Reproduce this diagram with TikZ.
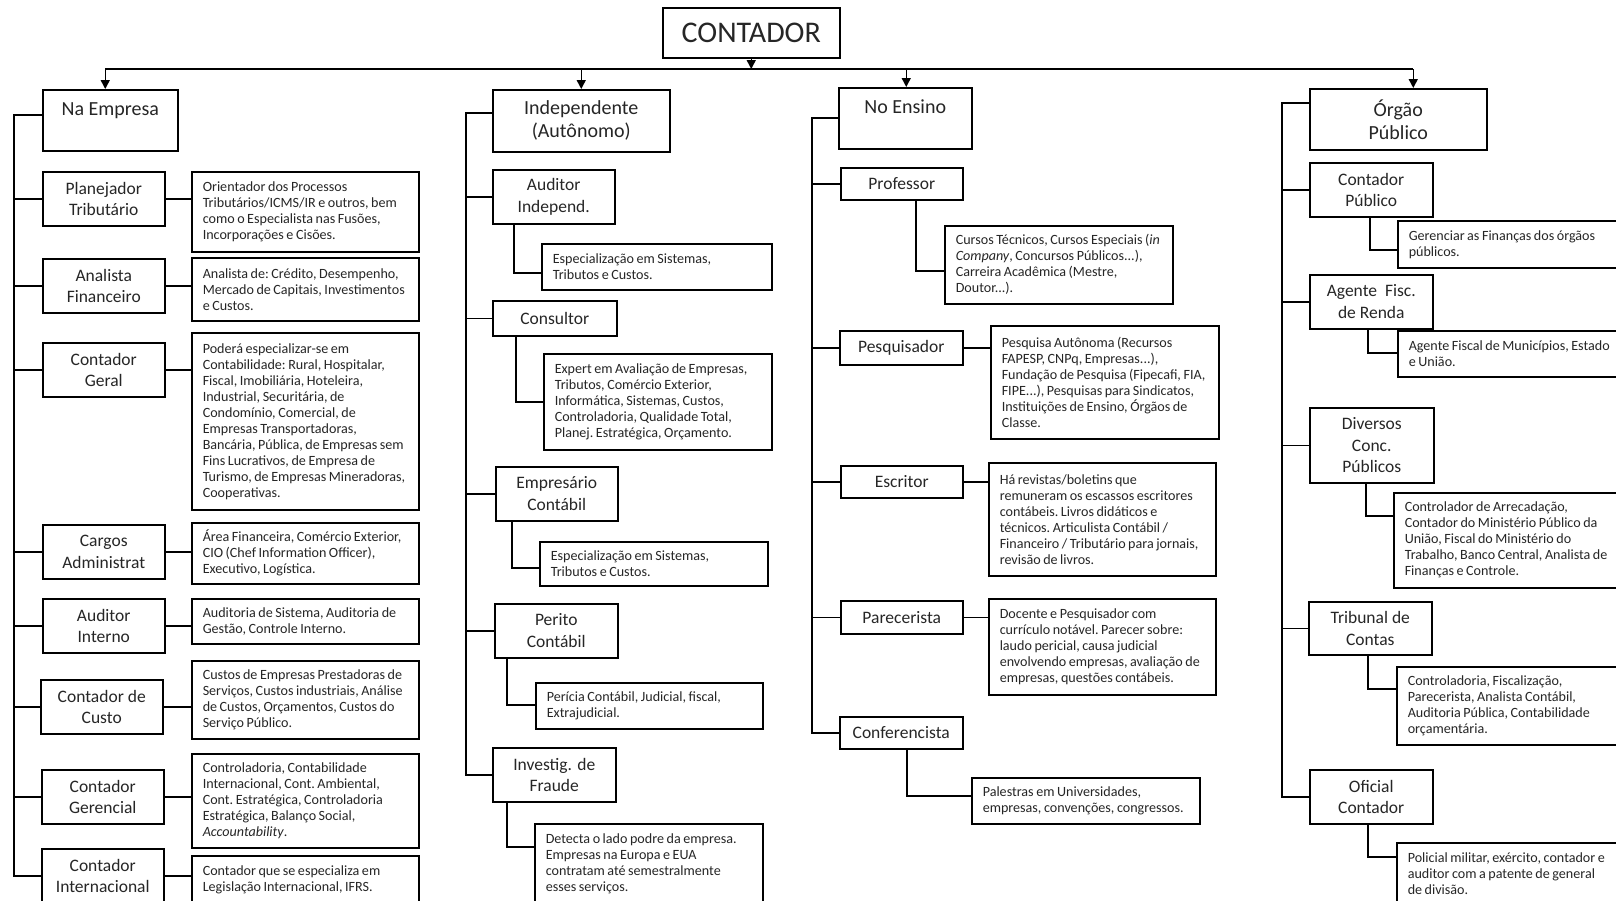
\documentclass[tikz,border=0pt]{standalone}
\usepackage{fontspec}
\setmainfont{Carlito}
\usetikzlibrary{arrows.meta,calc}
\newcommand\dscfont{\fontsize{14.1}{16}\selectfont}
\newcommand\lblfont{\fontsize{17.5}{21.5}\selectfont}
\newcommand\hdfont{\fontsize{20}{23}\selectfont}
\newcommand\ttlfont{\fontsize{30}{36}\selectfont}

\tikzset{
  ln/.style={line width=1.5pt, draw=black},
  arr/.style={ln, -{Triangle[width=9pt,length=9pt]}},
  lbl/.style 2 args={draw=black, line width=1.5pt, anchor=north west,
    minimum width=#1pt, minimum height=#2pt, inner sep=0pt,
    align=center, font=\lblfont, text=black!85},
  hd/.style 2 args={lbl={#1}{#2}, font=\hdfont},
  ttl/.style 2 args={lbl={#1}{#2}, font=\ttlfont},
  % description boxes: tight word spacing, lines never rewrap
  dsc/.style 2 args={draw=black, line width=1.5pt, anchor=north west,
    minimum width=#1pt, minimum height=#2pt, inner xsep=11pt, inner ysep=0pt,
    /utils/exec={\pgfmathsetlengthmacro\dscw{#1pt-22pt}}, text width=\dscw,
    align=left, font=\dscfont, text=black!85,
    execute at begin node={\frenchspacing\spaceskip=0.18em plus 0.1em minus 0.04em\relax
      \rightskip=0pt plus 1fil minus 40pt\relax\parskip=0pt\relax}},
}

\begin{document}
\begin{tikzpicture}[x=1pt,y=-1pt]
\clip (0,0) rectangle (1616,900);
\fill[white] (0,0) rectangle (1616,900);

% root
\node[ttl={177}{50}] (ct) at (662,7) {CONTADOR};

% ---------------- Na Empresa ----------------
\node[hd={135}{61}] (ne) at (42,89) {Na Empresa\\~};
\node[lbl={122}{54}] (pt) at (42,171) {Planejador\\Tributário};
\node[dsc={227}{80}] (ptd) at (191,171) {Orientador dos Processos\\Tributários/ICMS/IR e outros, bem\\como o Especialista nas Fusões,\\Incorporações e Cisões.};
\node[lbl={122}{54}] (af) at (42,258) {Analista\\Financeiro};
\node[dsc={227}{63}] (afd) at (191,257) {Analista de: Crédito, Desempenho,\\Mercado de Capitais, Investimentos\\e Custos.};
\node[lbl={122}{54}] (cg) at (42,342) {Contador\\Geral};
\node[dsc={227}{177}] (cgd) at (191,332) {Poderá especializar-se em\\Contabilidade: Rural, Hospitalar,\\Fiscal, Imobiliária, Hoteleira,\\Industrial, Securitária, de\\Condomínio, Comercial, de\\Empresas Transportadoras,\\Bancária, Pública, de Empresas sem\\Fins Lucrativos, de Empresa de\\Turismo, de Empresas Mineradoras,\\Cooperativas.};
\node[lbl={122}{54}] (ca) at (42,524) {Cargos\\Administrat};
\node[dsc={227}{61}] (cad) at (191,522) {Área Financeira, Comércio Exterior,\\CIO (Chef Information Officer),\\Executivo, Logística.};
\node[lbl={122}{54}] (ai) at (42,598) {Auditor\\Interno};
\node[dsc={227}{45}] (aid) at (191,598) {Auditoria de Sistema, Auditoria de\\Gestão, Controle Interno.};
\node[lbl={122}{54}] (cc) at (40,679) {Contador de\\Custo};
\node[dsc={227}{78}] (ccd) at (191,660) {Custos de Empresas Prestadoras de\\Serviços, Custos industriais, Análise\\de Custos, Orçamentos, Custos do\\Serviço Público.};
\node[lbl={122}{54}] (cge) at (41,769) {Contador\\Gerencial};
\node[dsc={227}{94}] (cged) at (191,753) {Controladoria, Contabilidade\\Internacional, Cont. Ambiental,\\Cont. Estratégica, Controladoria\\Estratégica, Balanço Social,\\\textit{Accountability}.};
\node[lbl={122}{54}] (ci) at (41,848) {Contador\\Internacional};
\node[dsc={227}{48}] (cid) at (191,855) {Contador que se especializa em\\Legislação Internacional, IFRS.};

% ---------------- Independente ----------------
\node[hd={177}{62}] (in) at (492,89) {Independente\\(Autônomo)};
\node[lbl={122}{54}] (au) at (492,169) {Auditor\\Independ.};
\node[dsc={230}{46}] (aud) at (541,243) {Especialização em Sistemas,\\Tributos e Custos.};
\node[lbl={124}{35}] (co) at (492,300) {Consultor};
\node[dsc={228}{96}] (cod) at (543,353) {Expert em Avaliação de Empresas,\\Tributos, Comércio Exterior,\\Informática, Sistemas, Custos,\\Controladoria, Qualidade Total,\\Planej. Estratégica, Orçamento.};
\node[lbl={122}{54}] (em) at (495,466) {Empresário\\Contábil};
\node[dsc={228}{44}] (emd) at (539,541) {Especialização em Sistemas,\\Tributos e Custos.};
\node[lbl={123}{54}] (pe) at (494,603) {Perito\\Contábil};
\node[dsc={227}{46}] (ped) at (535,682) {Perícia Contábil, Judicial, fiscal,\\Extrajudicial.};
\node[lbl={123}{54}] (iv) at (492,747) {Investig. de\\Fraude};
\node[dsc={228}{80}] (ivd) at (534,823) {Detecta o lado podre da empresa.\\Empresas na Europa e EUA\\contratam até semestralmente\\esses serviços.};

% ---------------- No Ensino ----------------
\node[hd={133}{61}] (ns) at (838,87) {No Ensino\\~};
\node[lbl={122}{32}] (pr) at (840,167) {Professor};
\node[dsc={228}{78}] (prd) at (944,225) {Cursos Técnicos, Cursos Especiais (\textit{in}\\\textit{Company}, Concursos Públicos...),\\Carreira Acadêmica (Mestre,\\Doutor...).};
\node[lbl={123}{34}] (pq) at (839,330) {Pesquisador};
\node[dsc={228}{113}] (pqd) at (990,325) {Pesquisa Autônoma (Recursos\\FAPESP, CNPq, Empresas...),\\Fundação de Pesquisa (Fipecafi, FIA,\\FIPE...), Pesquisas para Sindicatos,\\Instituições de Ensino, Órgãos de\\Classe.};
\node[lbl={122}{32}] (es) at (840,465) {Escritor};
\node[dsc={227}{113}] (esd) at (988,462) {Há revistas/boletins que\\remuneram os escassos escritores\\contábeis. Livros didáticos e\\técnicos. Articulista Contábil /\\Financeiro / Tributário para jornais,\\revisão de livros.};
\node[lbl={122}{33}] (pc) at (840,600) {Parecerista};
\node[dsc={227}{96}] (pcd) at (988,598) {Docente e Pesquisador com\\currículo notável. Parecer sobre:\\laudo pericial, causa judicial\\envolvendo empresas, avaliação de\\empresas, questões contábeis.};
\node[lbl={123}{32}] (cf) at (839,716) {Conferencista};
\node[dsc={228}{46}] (cfd) at (971,777) {Palestras em Universidades,\\empresas, convenções, congressos.};

% ---------------- Órgão Público ----------------
\node[hd={177}{61}] (og) at (1309,88) {Órgão\\Público};
\node[lbl={123}{54}] (cp) at (1309,162) {Contador\\Público};
\node[dsc={240}{47}] (cpd) at (1397,220) {Gerenciar as Finanças dos órgãos\\públicos.};
\node[lbl={123}{54}] (ag) at (1309,274) {Agente~ Fisc.\\de Renda};
\node[dsc={240}{46}] (agd) at (1397,330) {Agente Fiscal de Municípios, Estado\\e União.};
\node[lbl={124}{75}] (dv) at (1309,407) {Diversos\\Conc.\\Públicos};
\node[dsc={244}{95}] (dvd) at (1393,492) {Controlador de Arrecadação,\\Contador do Ministério Público da\\União, Fiscal do Ministério do\\Trabalho, Banco Central, Analista de\\Finanças e Controle.};
\node[lbl={123}{53}] (tc) at (1308,601) {Tribunal de\\Contas};
\node[dsc={240}{78}] (tcd) at (1396,666) {Controladoria, Fiscalização,\\Parecerista, Analista Contábil,\\Auditoria Pública, Contabilidade\\orçamentária.};
\node[lbl={123}{54}] (oc) at (1309,769) {Oficial\\Contador};
\node[dsc={240}{62}] (ocd) at (1396,842) {Policial militar, exército, contador e\\auditor com a patente de general\\de divisão.};

% ---------------- top distribution ----------------
\coordinate (bus) at (0,69);
\coordinate (a1) at ($(ne.north)+(-5,0)$);
\coordinate (a2) at (in.north);
\coordinate (a3) at ($(ns.north)+(1,0)$);
\coordinate (a4) at ($(og.north)+(15,0)$);
\draw[ln] (a1 |- bus) -- (a4 |- bus);
\draw[arr] (ct.south) -- (ct.south |- bus);
\foreach \a in {a1,a2,a3,a4} \draw[arr] (\a |- bus) -- (\a);

% ---------------- trunks ----------------
\coordinate (k1) at (14,0);
\coordinate (k2) at (466,0);
\coordinate (k3) at (812,0);
\coordinate (k4) at (1282,0);
\draw[ln] ($(ne.north west)+(0,26)$) -| (k1 |- ci.west) -- (ci.west);
\foreach \n in {pt,af,cg,ca,ai,cc,cge} \draw[ln] (k1 |- \n.west) -- (\n.west);
\draw[ln] ($(in.north west)+(0,24)$) -| (k2 |- iv.west) -- (iv.west);
\foreach \n in {au,co,em,pe} \draw[ln] (k2 |- \n.west) -- (\n.west);
\draw[ln] ($(ns.north west)+(0,31)$) -| (k3 |- cf.west) -- (cf.west);
\foreach \n in {pr,pq,es,pc} \draw[ln] (k3 |- \n.west) -- (\n.west);
\draw[ln] ($(og.north west)+(0,15)$) -| (k4 |- oc.west) -- (oc.west);
\foreach \n in {cp,ag,dv,tc} \draw[ln] (k4 |- \n.west) -- (\n.west);

% ---------------- role to description ----------------
\foreach \n in {pt,af,cg,ca,ai,cc,cge,ci} \draw[ln] (\n.east) -- (\n.east -| \n d.west);
\foreach \n in {pq,es,pc} \draw[ln] (\n.east) -- (\n.east -| \n d.west);
\draw[ln] ($(au.south west)+(22,0)$) |- ($(aud.north west)+(0,30)$);
\draw[ln] ($(co.south west)+(24,0)$) |- ($(cod.north west)+(0,49)$);
\draw[ln] ($(em.south west)+(17,0)$) |- ($(emd.north west)+(0,27)$);
\draw[ln] ($(pe.south west)+(13,0)$) |- ($(ped.north west)+(0,23)$);
\draw[ln] ($(iv.south west)+(15,0)$) |- ($(ivd.north west)+(0,24)$);
\draw[ln] ($(pr.south west)+(76,0)$) |- ($(prd.north west)+(0,46)$);
\draw[ln] ($(cf.south west)+(68,0)$) |- ($(cfd.north west)+(0,19)$);
\draw[ln] ($(cp.south west)+(61,0)$) |- ($(cpd.north west)+(0,30)$);
\draw[ln] ($(ag.south west)+(59,0)$) |- ($(agd.north west)+(0,23)$);
\draw[ln] ($(dv.south west)+(57,0)$) |- ($(dvd.north west)+(0,24)$);
\draw[ln] ($(tc.south west)+(60,0)$) |- ($(tcd.north west)+(0,23)$);
\draw[ln] ($(oc.south west)+(59,0)$) |- ($(ocd.north west)+(0,15)$);
\end{tikzpicture}
\end{document}
